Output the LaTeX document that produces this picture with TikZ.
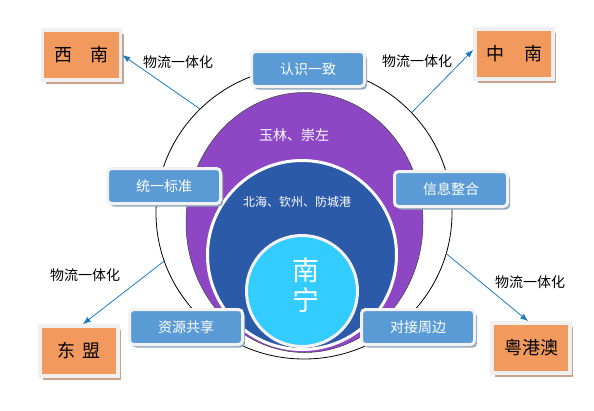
\documentclass[tikz,border=0pt]{standalone}
\usepackage{fontspec}
\setmainfont{Noto Sans CJK SC}
\usetikzlibrary{arrows.meta,shadows,shapes.geometric}
\definecolor{orng}{HTML}{F29A5E}
\definecolor{oedge}{HTML}{F0F0F0}
\definecolor{oshadow}{HTML}{C9A48C}
\definecolor{boxblue}{HTML}{5B9BD5}
\definecolor{boxedge}{HTML}{F2F2F2}
\definecolor{shadowblue}{HTML}{93A9BE}
\definecolor{purp}{HTML}{8E47C4}
\definecolor{dblue}{HTML}{2B5AA8}
\definecolor{cyanc}{HTML}{33CCFF}
\definecolor{arrowblue}{HTML}{1A7DC9}
\begin{document}
\begin{tikzpicture}[x=1pt,y=-1pt,
  bbox/.style={rectangle, rounded corners=4pt, fill=boxblue, draw=boxedge, line width=3pt,
    minimum width=113pt, minimum height=35pt, inner sep=0pt, text=white,
    font=\fontsize{14}{16}\selectfont,
    drop shadow={shadow xshift=2.5pt, shadow yshift=-3pt, fill=shadowblue, opacity=1}},
  obox/.style={rectangle, fill=orng, draw=oedge, line width=3.5pt,
    minimum width=78pt, minimum height=50pt, inner sep=0pt, text=black,
    font=\fontsize{18}{20}\selectfont,
    drop shadow={shadow xshift=3pt, shadow yshift=-3.5pt, fill=oshadow, opacity=1}},
  lab/.style={font=\fontsize{14}{16}\selectfont, inner sep=1pt, text=black},
  arr/.style={draw=arrowblue, line width=0.8pt, -{Latex[length=8pt,width=6pt]}},
  wtxt/.style={text=white, inner sep=1pt}
]
\useasboundingbox (0,0) rectangle (594,410);
% circles
\node[ellipse, draw=black, line width=0.8pt, fill=white, minimum width=296pt, minimum height=292pt, inner sep=0pt] (outer) at (304,213) {};
% arrows
\node[obox] (xinan) at (81.5,55) {西\hspace{18pt}南};
\node[obox] (zhongnan) at (514,54) {中\hspace{20pt}南};
\node[obox] (dongmeng) at (79,351) {东\hspace{8pt}盟\hspace{14pt}};
\node[obox] (ygao) at (531,348) {粤港澳};
\draw[arr] (outer.135) -- (xinan.east);
\draw[arr] (outer.43) -- (zhongnan.174);
\draw[arr] (outer.199) -- (dongmeng.82);
\draw[arr] (outer.344) -- (ygao.96);
\node[lab] (l1) at (178,62) {物流一体化};
\node[lab] (l2) at (417,61) {物流一体化};
\node[lab] (l3) at (85,275) {物流一体化};
\node[lab] (l4) at (530,282) {物流一体化};
\node[ellipse, fill=purp, draw=black!75, line width=0.5pt, minimum width=237pt, minimum height=260pt, inner sep=0pt] (yulin) at (304.5,222.5) {};
\node[circle, fill=dblue, draw=white, line width=3pt, minimum size=189pt, inner sep=0pt] (beihai) at (302,255) {};
\node[circle, fill=cyanc, draw=boxedge, line width=3pt, minimum size=111pt, inner sep=0pt] (nanning) at (302,291) {};
% texts
\node[wtxt, font=\fontsize{14}{16}\selectfont] (t1) at (294,135) {玉林、崇左};
\node[wtxt, font=\fontsize{12}{14}\selectfont] (t2) at (297,202) {北海、钦州、防城港};
\node[wtxt, font=\fontsize{27}{30}\selectfont, align=center] (t3) at (306,285) {南\\宁};
% blue boxes
\node[bbox] (b1) at (308,69) {认识一致};
\node[bbox] (b2) at (164,186) {统一标准};
\node[bbox] (b3) at (451,189) {信息整合};
\node[bbox] (b4) at (186,327) {资源共享};
\node[bbox] (b5) at (418,327) {对接周边};
\end{tikzpicture}
\end{document}
